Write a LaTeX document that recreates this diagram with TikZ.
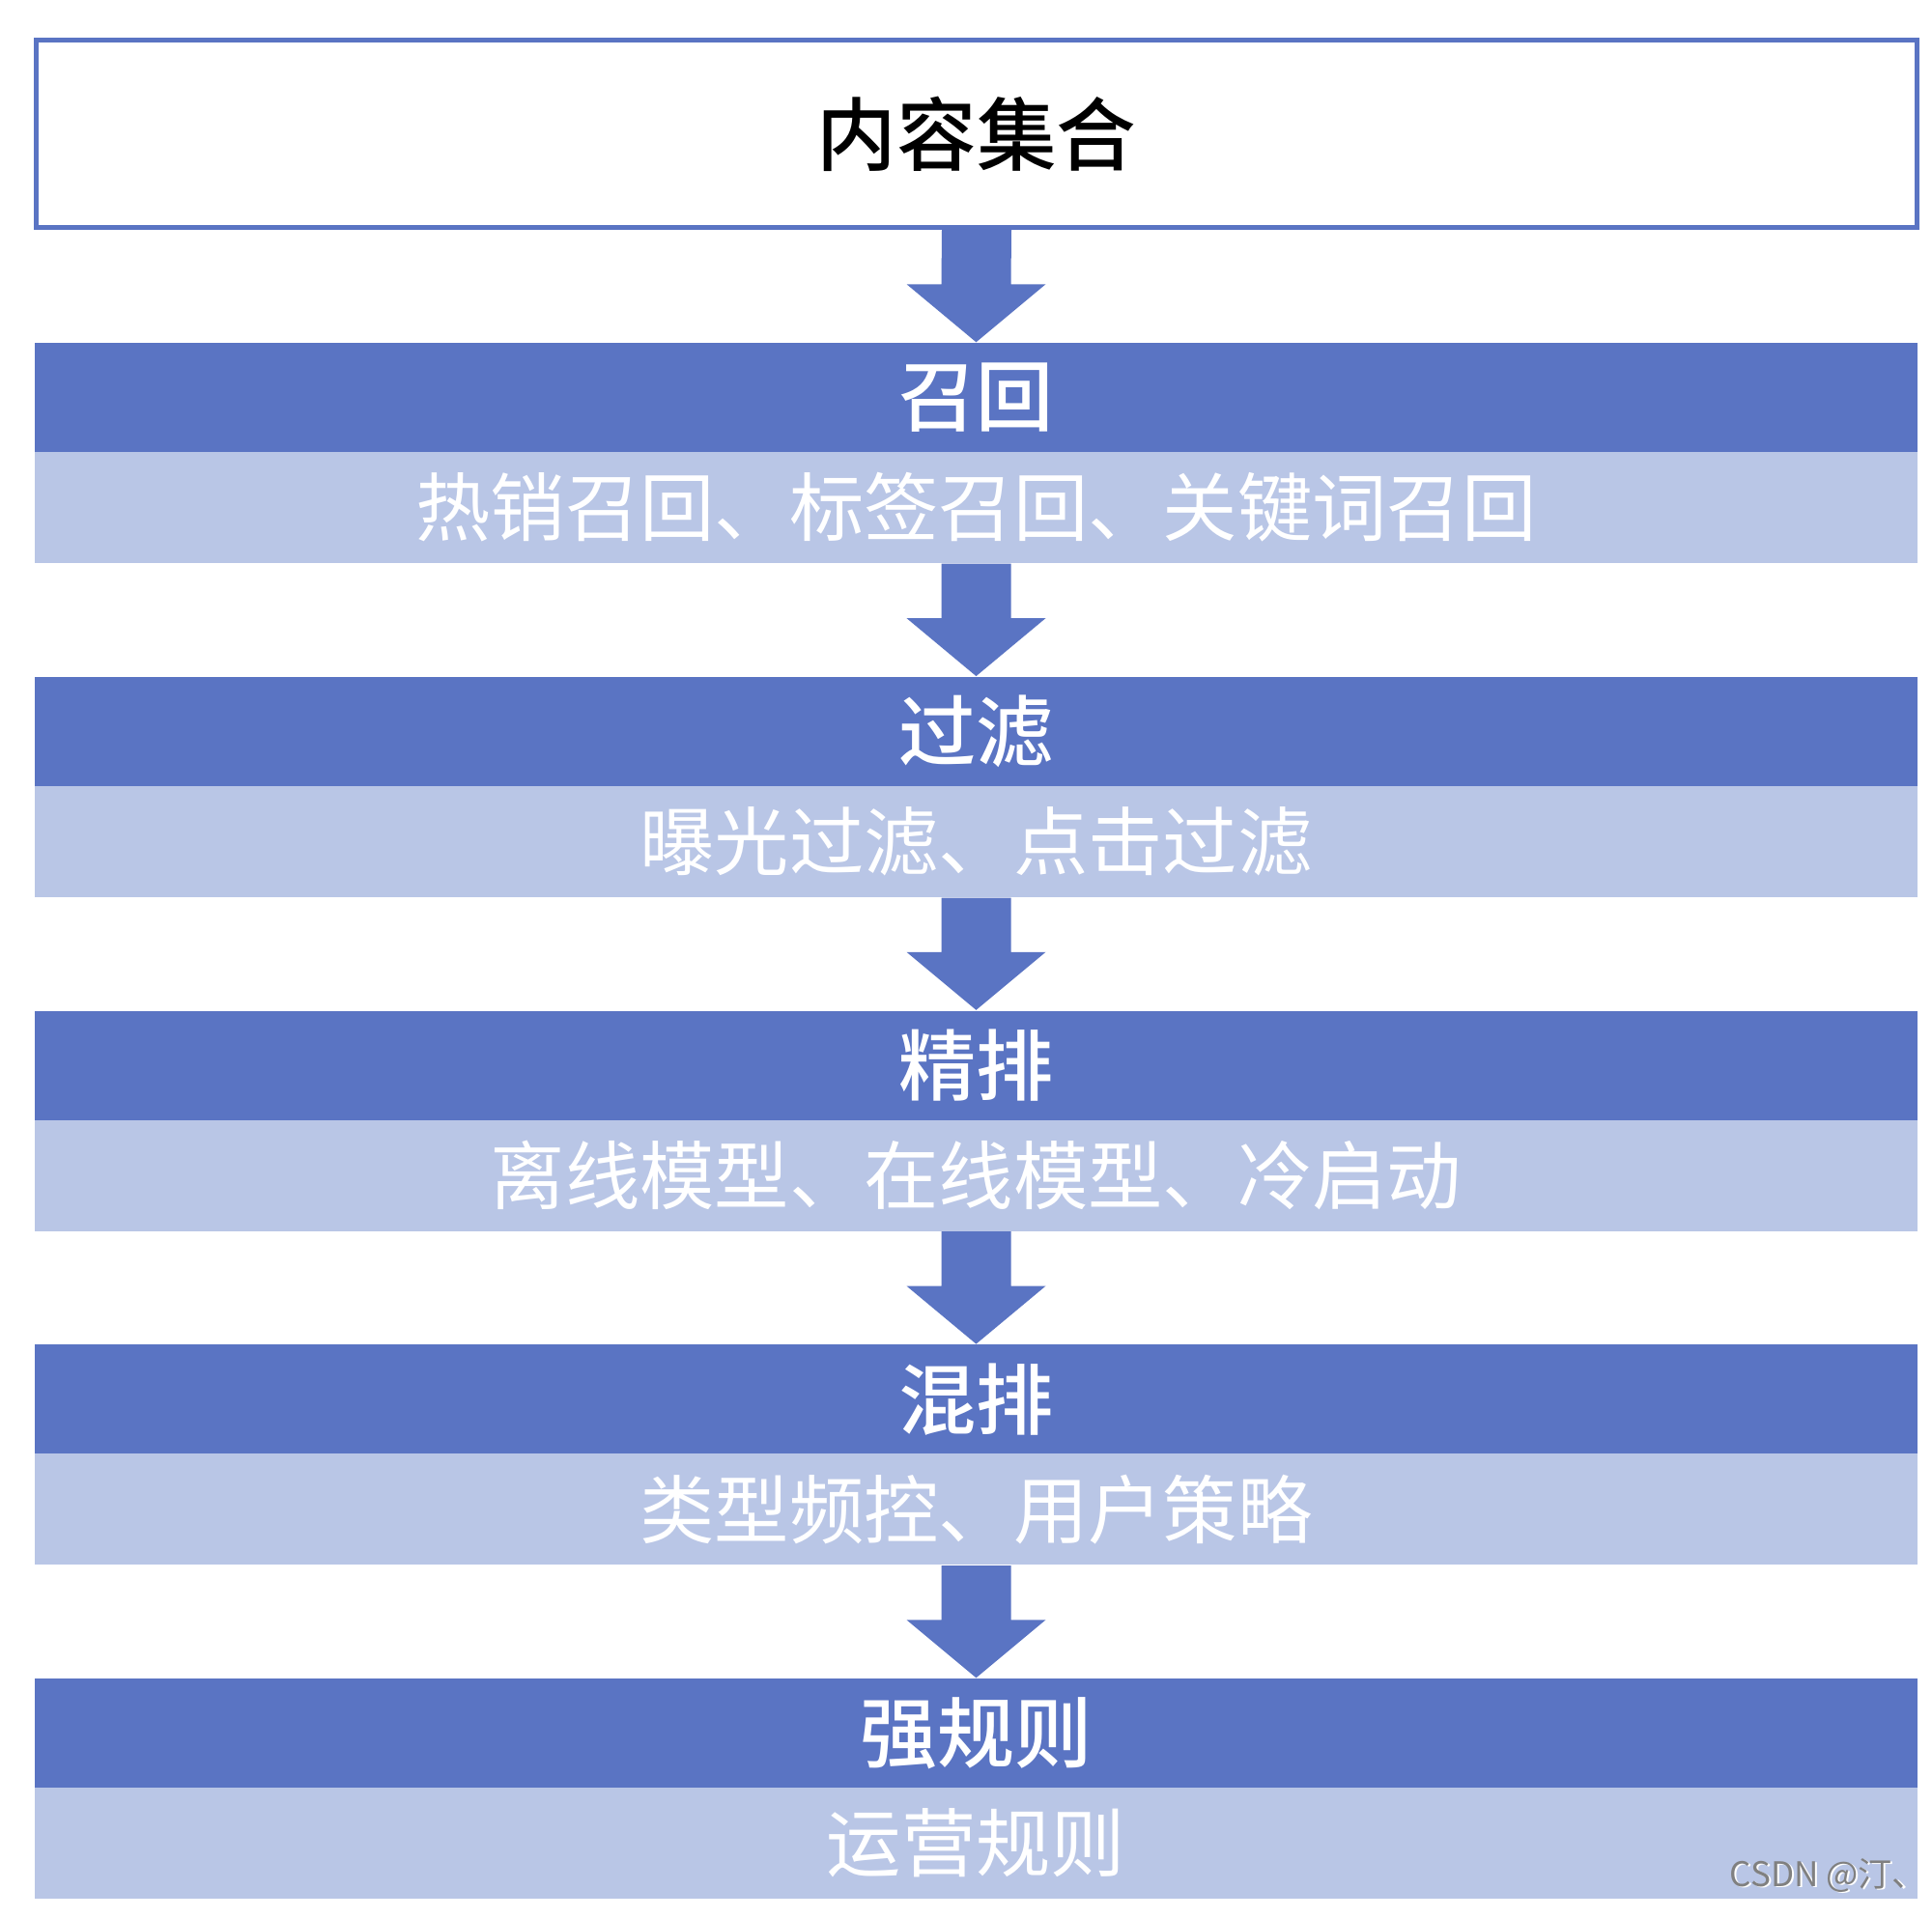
\documentclass[tikz,border=0pt]{standalone}
\usepackage{fontspec}
\usetikzlibrary{calc}
\newfontfamily\cjk{Noto Sans CJK SC}
\IfFontExistsTF{Noto Sans CJK SC Medium}{\newfontfamily\cjkmed{Noto Sans CJK SC Medium}}{\newcommand{\cjkmed}{\cjk\bfseries}}
\definecolor{darkblue}{RGB}{90,116,195}
\definecolor{lightblue}{RGB}{185,198,230}
\definecolor{wmgray}{RGB}{128,128,128}
\tikzset{
  topbox/.style={draw=darkblue, line width=1.42pt, fill=white, minimum width=19.47cm, minimum height=1.94cm, inner sep=0pt, font=\cjkmed\fontsize{23.5pt}{28pt}\selectfont, text=black},
  headbar/.style={fill=darkblue, minimum width=19.49cm, minimum height=1.14cm, inner sep=0pt, font=\cjkmed\fontsize{22.8pt}{27pt}\selectfont, text=white},
  subbar/.style={fill=lightblue, minimum width=19.49cm, minimum height=1.15cm, inner sep=0pt, font=\cjk\fontsize{22pt}{27pt}\selectfont, text=white},
  watermark/.style={font=\cjk\fontsize{10pt}{12pt}\selectfont, text=wmgray, inner sep=0pt, anchor=west}
}
\newcommand{\blockarrow}[2]{%
  \fill[darkblue] ($(#1.south)+(-0.36,0)$) -- ($(#2.north)+(-0.36,0.60)$) -- ($(#2.north)+(-0.72,0.60)$) -- (#2.north) -- ($(#2.north)+(0.72,0.60)$) -- ($(#2.north)+(0.36,0.60)$) -- ($(#1.south)+(0.36,0)$) -- cycle;}
\begin{document}
\begin{tikzpicture}
\useasboundingbox (0,0) rectangle (20,-19.86);
\fill[white] (0,0) rectangle (20,-19.86);
\node[topbox] (top) at (10.11,-1.385) {内容集合};
% bars: tops at 355, 700.75, 1046.5, 1392.25, 1738 px
\node[headbar] (h1) at (10.105,-4.12) {\raisebox{-0.04cm}{召回}};
\node[subbar]  (s1) at (10.105,-5.255) {\raisebox{-0.04cm}{热销召回、标签召回、关键词召回}};
\node[headbar] (h2) at (10.105,-7.578) {\raisebox{-0.04cm}{过滤}};
\node[subbar]  (s2) at (10.105,-8.713) {\raisebox{-0.04cm}{曝光过滤、点击过滤}};
\node[headbar] (h3) at (10.105,-11.035) {\raisebox{-0.04cm}{精排}};
\node[subbar]  (s3) at (10.105,-12.17) {\raisebox{-0.04cm}{离线模型、在线模型、冷启动}};
\node[headbar] (h4) at (10.105,-14.493) {\raisebox{-0.04cm}{混排}};
\node[subbar]  (s4) at (10.105,-15.628) {\raisebox{-0.04cm}{类型频控、用户策略}};
\node[headbar] (h5) at (10.105,-17.95) {\raisebox{-0.04cm}{强规则}};
\node[subbar]  (s5) at (10.105,-19.085) {\raisebox{-0.04cm}{运营规则}};
\blockarrow{top}{h1}
\blockarrow{s1}{h2}
\blockarrow{s2}{h3}
\blockarrow{s3}{h4}
\blockarrow{s4}{h5}
\node[watermark, text=white] (wms) at (17.92,-19.43) {CSDN @汀、};
\node[watermark] (wm) at (17.9,-19.42) {CSDN @汀、};
\end{tikzpicture}
\end{document}
